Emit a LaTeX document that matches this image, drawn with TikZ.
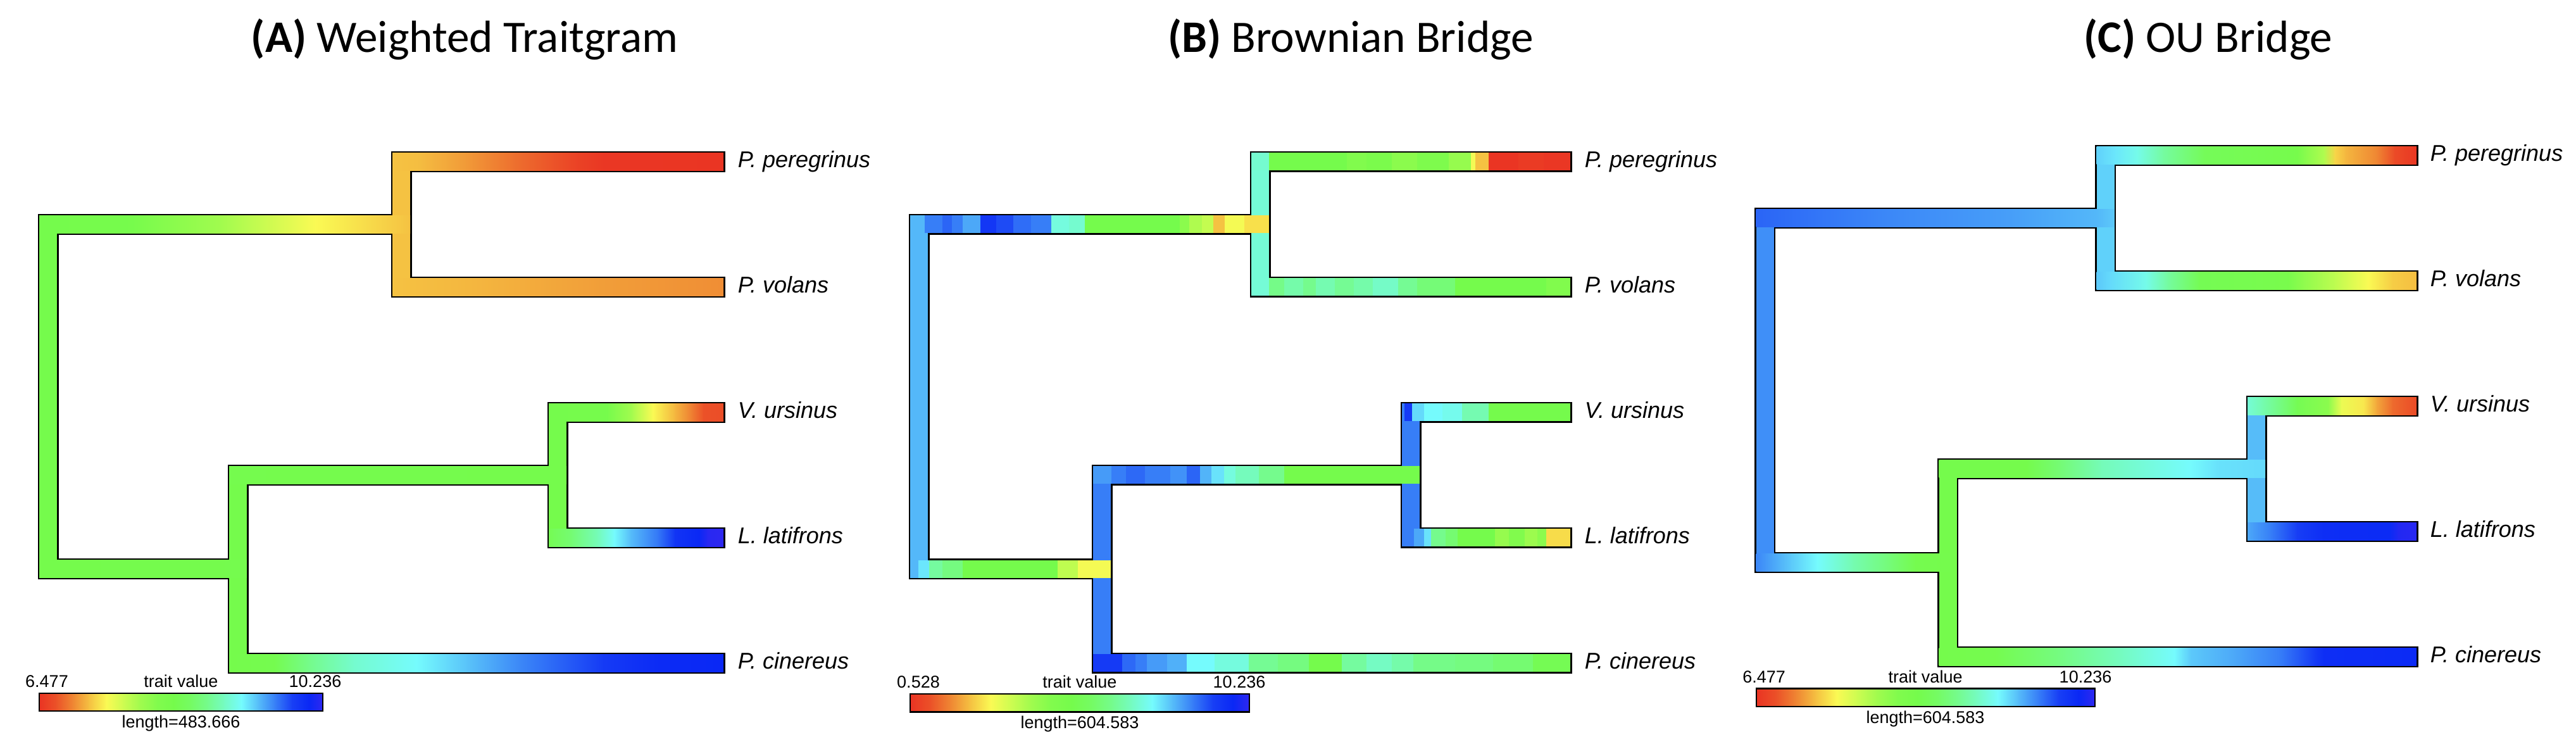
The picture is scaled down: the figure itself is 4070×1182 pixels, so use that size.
\documentclass[tikz,border=0pt]{standalone}
\usepackage{fontspec}
\newfontfamily\titlefont{Carlito}
\newfontfamily\labfont{Liberation Sans}
% rainbow palette (hue steps of 15 degrees, as rendered)
\definecolor{hc0}{RGB}{234,51,35}
\definecolor{hc1}{RGB}{235,81,40}
\definecolor{hc2}{RGB}{239,134,51}
\definecolor{hc3}{RGB}{245,194,66}
\definecolor{hc4}{RGB}{250,250,84}
\definecolor{hc5}{RGB}{205,252,81}
\definecolor{hc6}{RGB}{160,251,78}
\definecolor{hc7}{RGB}{129,251,77}
\definecolor{hc8}{RGB}{117,251,76}
\definecolor{hc9}{RGB}{117,251,100}
\definecolor{hc10}{RGB}{117,251,141}
\definecolor{hc11}{RGB}{117,251,195}
\definecolor{hc12}{RGB}{117,251,253}
\definecolor{hc13}{RGB}{86,188,249}
\definecolor{hc14}{RGB}{55,126,247}
\definecolor{hc15}{RGB}{24,63,245}
\definecolor{hc16}{RGB}{10,40,245}
\definecolor{hc17}{RGB}{55,40,240}
\newcommand\defhue[2]{%
  \pgfmathtruncatemacro\hidx{min(floor((#1)/15),16)}%
  \pgfmathtruncatemacro\hnxt{\hidx+1}%
  \pgfmathtruncatemacro\hpct{round(100-100*((#1)-15*\hidx)/15)}%
  \colorlet{#2}{hc\hidx!\hpct!hc\hnxt}}
% smooth gradient bar: list of x/hue
\newcommand\gbar[3]{%
  \foreach \xx/\hh [count=\ii, remember=\xx as \px (initially 0), remember=\hh as \ph (initially 0)] in {#3}{%
    \ifnum\ii>1
      \defhue{\ph}{cL}\defhue{\hh}{cR}%
      \ifnum\ii>2 \def\ov{0.8}\else\def\ov{0}\fi
      \shade[left color=cL,right color=cR] (\px-\ov,#1) rectangle (\xx,#2);
    \fi}}
% striped bar: list of x/hue, segment ending at x has that hue
\newcommand\sbar[3]{%
  \foreach \xx/\hh [count=\ii, remember=\xx as \px (initially 0)] in {#3}{%
    \ifnum\ii>1
      \defhue{\hh}{cR}%
      \ifnum\ii>2 \def\ov{0.8}\else\def\ov{0}\fi
      \fill[cR] (\px-\ov,#1) rectangle (\xx,#2);
    \fi}}
% vertical bar x1 x2 y1 y2 hue
\newcommand\vbar[5]{\defhue{#5}{cV}\fill[cV] (#1,#3) rectangle (#2,#4);}
% outline box
\newcommand\ob[4]{\fill[black] (#1-2.5,#3-2.5) rectangle (#2+2.5,#4+2.5);}
% colour bar
\newcommand\cbar[4]{%
  \pgfmathsetmacro\cbw{(#2-#1)/252}%
  \foreach \hh [count=\ii, remember=\hh as \ph (initially 0)] in {0,15,30,45,60,75,90,105,120,135,150,165,180,195,210,225,240,252}{%
    \ifnum\ii>1
      \defhue{\ph}{cL}\defhue{\hh}{cR}%
      \shade[left color=cL,right color=cR] ({#1+\cbw*\ph-0.6},#3) rectangle ({#1+\cbw*\hh},#4);
    \fi}%
  \draw[line width=0.55pt] (#1,#3) rectangle (#2,#4);}
\begin{document}
\begin{tikzpicture}[x=0.25pt,y=-0.25pt,
  ttl/.style={anchor=base,inner sep=0pt,font=\titlefont\fontsize{17.8pt}{21pt}\selectfont},
  tip/.style={anchor=base west,inner sep=0pt,font=\labfont\itshape\fontsize{9pt}{11pt}\selectfont},
  cbl/.style={anchor=base,inner sep=0pt,font=\labfont\fontsize{6.75pt}{8pt}\selectfont}]
\useasboundingbox (0,0) rectangle (4070,1182);
\fill[white] (0,0) rectangle (4070,1182);

% ================= Panel A =================
\node[ttl] (tA) at (734,82) {\textbf{(A)} Weighted Traitgram};
\ob{62}{90}{340}{912.5}
\ob{62}{648}{340}{368}
\ob{62}{390}{884.5}{912.5}
\ob{620}{648}{241}{467}
\ob{620}{1143}{241}{269}
\ob{620}{1143}{439}{467}
\ob{362}{390}{736}{1061}
\ob{362}{895}{736}{764}
\ob{867}{895}{637}{863}
\ob{867}{1143}{637}{665}
\ob{867}{1143}{835}{863}
\ob{362}{1143}{1033}{1061}
\vbar{62}{90}{340}{912.5}{120}
\vbar{620}{648}{241}{467}{45}
\vbar{362}{390}{736}{1061}{120}
\vbar{867}{895}{637}{863}{120}
\gbar{340}{368}{62/120, 208/118, 347/90, 499/60, 648/45}
\gbar{884.5}{912.5}{62/120, 390/121}
\gbar{241}{269}{620/45, 660/44, 737/35, 824/22, 911/8, 954/2, 1143/1}
\gbar{439}{467}{620/45, 750/42, 950/36, 1143/32}
\gbar{736}{764}{362/121, 895/120}
\gbar{637}{665}{867/120, 960/118, 997/90, 1032/60, 1067/42, 1093/28, 1112/15, 1143/13}
\gbar{835}{863}{867/125, 902/140, 945/162, 971/180, 997/195, 1041/212, 1067/232, 1105/240, 1119/250, 1143/252}
\gbar{1033}{1061}{362/120, 434/122, 486/148, 560/168, 659/180, 737/193, 824/208, 954/228, 1041/238, 1143/240}
\node[tip] (a1) at (1165,264) {P. peregrinus};
\node[tip] (a2) at (1165,462) {P. volans};
\node[tip] (a3) at (1165,660) {V. ursinus};
\node[tip] (a4) at (1165,858) {L. latifrons};
\node[tip] (a5) at (1165,1056) {P. cinereus};
\cbar{62}{510}{1095}{1123}
\node[cbl] (amin) at (74,1085) {6.477};
\node[cbl] (atv) at (286,1085) {trait value};
\node[cbl] (amax) at (498,1085) {10.236};
\node[cbl] (alen) at (286,1149) {length=483.666};

% ================= Panel B =================
\node[ttl] (tB) at (2134,82) {\textbf{(B)} Brownian Bridge};
\ob{1438}{1466}{340}{912.5}
\ob{1438}{2005}{340}{368}
\ob{1438}{1755}{884.5}{912.5}
\ob{1977}{2005}{241}{467}
\ob{1977}{2481}{241}{269}
\ob{1977}{2481}{439}{467}
\ob{1727}{1755}{736}{1061}
\ob{1727}{2243}{736}{764}
\ob{2215}{2243}{637}{863}
\ob{2215}{2481}{637}{665}
\ob{2215}{2481}{835}{863}
\ob{1727}{2481}{1033}{1061}
\vbar{1438}{1466}{340}{912.5}{196}
\vbar{1977}{2005}{241}{467}{170}
\vbar{1727}{1755}{736}{1061}{210}
\vbar{2215}{2243}{637}{863}{210}
\sbar{340}{368}{1438/0, 1462/196, 1490/210, 1505/216, 1522/210, 1550/200, 1575/230, 1602/222, 1630/214, 1662/210, 1690/172, 1715/168, 1865/120, 1880/100, 1900/85, 1918/78, 1936/45, 1967/62, 2005/53}
\sbar{884.5}{912.5}{1438/0, 1452/196, 1469/185, 1490/155, 1522/145, 1672/120, 1704/80, 1755/62}
\sbar{241}{269}{1977/0, 2006/168, 2129/120, 2160/105, 2200/112, 2240/100, 2290/108, 2325/95, 2332/62, 2353/45, 2400/1, 2440/4, 2481/2}
\sbar{439}{467}{1977/0, 2006/170, 2030/148, 2060/158, 2080/150, 2110/160, 2140/152, 2170/158, 2210/166, 2240/152, 2300/142, 2444/120, 2481/105}
\sbar{736}{764}{1727/0, 1757/203, 1780/210, 1810/215, 1850/210, 1876/205, 1897/216, 1915/197, 1935/186, 1953/172, 1990/163, 2030/150, 2243/120}
\sbar{637}{665}{2215/0, 2220/210, 2232/228, 2251/188, 2280/180, 2311/176, 2353/160, 2481/120}
\sbar{835}{863}{2215/0, 2235/210, 2251/200, 2262/186, 2285/150, 2304/140, 2363/120, 2385/95, 2410/105, 2430/92, 2444/100, 2481/52}
\sbar{1033}{1061}{1727/0, 1774/228, 1795/215, 1813/210, 1845/203, 1876/198, 1920/180, 1974/172, 2020/152, 2069/145, 2121/120, 2160/155, 2200/165, 2234/158, 2300/148, 2360/145, 2423/140, 2481/125}
\node[tip] (b1) at (2503,264) {P. peregrinus};
\node[tip] (b2) at (2503,462) {P. volans};
\node[tip] (b3) at (2503,660) {V. ursinus};
\node[tip] (b4) at (2503,858) {L. latifrons};
\node[tip] (b5) at (2503,1056) {P. cinereus};
\cbar{1438}{1974}{1096}{1124.5}
\node[cbl] (bmin) at (1451,1086) {0.528};
\node[cbl] (btv) at (1706,1086) {trait value};
\node[cbl] (bmax) at (1958,1086) {10.236};
\node[cbl] (blen) at (1706,1150) {length=604.583};

% ================= Panel C =================
\node[ttl] (tC) at (3489,82) {\textbf{(C)} OU Bridge};
\ob{2774.5}{2802.5}{330}{902.5}
\ob{2774.5}{3340.5}{330}{358}
\ob{2774.5}{3091.5}{874.5}{902.5}
\ob{3312.5}{3340.5}{231}{457}
\ob{3312.5}{3818}{231}{259}
\ob{3312.5}{3818}{429}{457}
\ob{3063.5}{3091.5}{726}{1051}
\ob{3063.5}{3579}{726}{754}
\ob{3551}{3579}{627}{853}
\ob{3551}{3818}{627}{655}
\ob{3551}{3818}{825}{853}
\ob{3063.5}{3818}{1023}{1051}
\vbar{2774.5}{2802.5}{330}{902.5}{206}
\vbar{3312.5}{3340.5}{231}{457}{190}
\vbar{3063.5}{3091.5}{726}{1051}{120}
\vbar{3551}{3579}{627}{853}{195}
\gbar{330}{358}{2774.5/216, 2970/208, 3181/202, 3314/196, 3340.5/192}
\gbar{874.5}{902.5}{2774.5/208, 2830/192, 2872/180, 2928/160, 2991/140, 3027/122, 3091.5/120}
\gbar{231}{259}{3312.5/190, 3342/185, 3377/175, 3419/155, 3483/128, 3630/118, 3672/85, 3690/50, 3707/42, 3756/30, 3784/12, 3818/2}
\gbar{429}{457}{3312.5/192, 3334/188, 3391/175, 3426/155, 3476/125, 3616/115, 3690/80, 3742/60, 3780/48, 3818/44}
\gbar{726}{754}{3063.5/120, 3202/120, 3251/140, 3321/162, 3461/180, 3504/186, 3579/188}
\gbar{627}{655}{3551/170, 3574/160, 3630/125, 3679/100, 3700/65, 3735/55, 3756/38, 3781/22, 3818/12}
\gbar{825}{853}{3551/200, 3588/210, 3630/226, 3672/236, 3777/238, 3790/248, 3818/250}
\gbar{1023}{1051}{3063.5/120, 3153/122, 3251/145, 3356/165, 3436/180, 3462/192, 3532/200, 3602/210, 3658/228, 3672/236, 3818/238}
\node[tip] (c1) at (3839,254) {P. peregrinus};
\node[tip] (c2) at (3839,452) {P. volans};
\node[tip] (c3) at (3839,650) {V. ursinus};
\node[tip] (c4) at (3839,848) {L. latifrons};
\node[tip] (c5) at (3839,1046) {P. cinereus};
\cbar{2775}{3310}{1087.5}{1116}
\node[cbl] (cmin) at (2787,1078) {6.477};
\node[cbl] (ctv) at (3042,1078) {trait value};
\node[cbl] (cmax) at (3295,1078) {10.236};
\node[cbl] (clen) at (3042,1142) {length=604.583};
\end{tikzpicture}
\end{document}
